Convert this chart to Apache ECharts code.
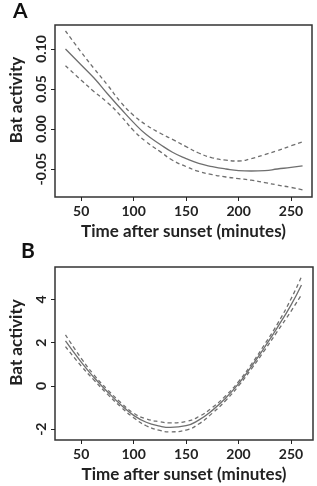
<!DOCTYPE html>
<html>
<head>
<meta charset="utf-8">
<script src="https://cdn.jsdelivr.net/npm/echarts@6/dist/echarts.min.js"></script>
<style>
  html, body { margin: 0; padding: 0; background: #fff; }
  #chart { width: 317px; height: 486px; }
</style>
</head>
<body>
<div id="chart"></div>
<script>
// minutes after sunset where the curves were read
const timeA = [35, 50, 62, 75, 88, 100, 112, 125, 137, 150, 162, 175, 188, 200, 212, 225, 237, 250, 261];
const fitA = [0.100, 0.080, 0.064, 0.044, 0.025, 0.008, -0.007, -0.019, -0.029, -0.037, -0.043, -0.047, -0.050, -0.052, -0.0525, -0.052, -0.050, -0.048, -0.046];
const upperA = [0.1225, 0.096, 0.076, 0.055, 0.033, 0.017, 0.005, -0.005, -0.013, -0.022, -0.030, -0.036, -0.039, -0.040, -0.037, -0.032, -0.027, -0.021, -0.016];
const lowerA = [0.079, 0.061, 0.047, 0.033, 0.016, -0.002, -0.016, -0.028, -0.039, -0.047, -0.053, -0.057, -0.060, -0.062, -0.064, -0.067, -0.070, -0.073, -0.076];

const timeB = [35, 50, 62, 75, 88, 100, 112, 125, 135, 150, 162, 175, 188, 200, 212, 225, 237, 250, 260];
const fitB = [2.08, 1.10, 0.40, -0.27, -0.88, -1.36, -1.68, -1.86, -1.92, -1.84, -1.58, -1.13, -0.55, 0.10, 0.88, 1.80, 2.70, 3.74, 4.67];
const upperB = [2.36, 1.28, 0.52, -0.17, -0.78, -1.26, -1.52, -1.66, -1.71, -1.64, -1.42, -1.00, -0.44, 0.20, 0.98, 1.93, 2.86, 4.02, 5.05];
const lowerB = [1.82, 0.92, 0.28, -0.38, -0.98, -1.47, -1.84, -2.06, -2.12, -2.04, -1.76, -1.26, -0.66, 0.00, 0.77, 1.66, 2.52, 3.45, 4.22];

const xTicks = [50, 100, 150, 200, 250];
const yTicksA = [-0.05, 0.00, 0.05, 0.10];
const yTicksB = [-2, 0, 2, 4];

const pairs = (xs, ys) => xs.map((x, i) => [x, ys[i]]);

const font = 'Lato, "Open Sans", sans-serif';
const ink = '#222';
const lineGrey = '#6f6f6f';

function xAxisFor(gridIndex, min, max) {
    return {
        type: 'value', gridIndex: gridIndex, min: min, max: max,
        name: 'Time after sunset (minutes)',
        nameLocation: 'middle', nameGap: 26,
        nameTextStyle: { fontFamily: font, fontSize: 17, fontWeight: 'bold', color: ink },
        splitLine: { show: false },
        axisLine: { show: false, onZero: false },
        axisTick: { show: true, customValues: xTicks, length: 4, lineStyle: { color: ink, width: 1 } },
        axisLabel: { customValues: xTicks, margin: 7, fontFamily: font, fontSize: 14, fontWeight: 'bold', color: ink }
    };
}

function yAxisFor(gridIndex, min, max, ticks, digits) {
    return {
        type: 'value', gridIndex: gridIndex, min: min, max: max,
        name: 'Bat activity',
        nameLocation: 'middle', nameGap: 30,
        // left padding nudges the rotated title upward, as in the original
        nameTextStyle: { fontFamily: font, fontSize: 17, fontWeight: 'bold', color: ink, padding: [0, 0, 0, 22] },
        splitLine: { show: false },
        axisLine: { show: false, onZero: false },
        axisTick: { show: true, customValues: ticks, length: 4, lineStyle: { color: ink, width: 1 } },
        axisLabel: {
            customValues: ticks, rotate: 90, margin: 7,
            fontFamily: font, fontSize: 14, fontWeight: 'bold', color: ink,
            formatter: v => v.toFixed(digits)
        }
    };
}

function curve(name, xi, yi, xs, ys, dashed) {
    return {
        name: name, type: 'line', xAxisIndex: xi, yAxisIndex: yi,
        data: pairs(xs, ys), smooth: true, symbol: 'none',
        lineStyle: { color: lineGrey, width: 1.3, type: dashed ? [4, 3] : 'solid' }
    };
}

const chart = echarts.init(document.getElementById('chart'), null, { renderer: 'canvas' });
chart.setOption({
    animation: false,
    backgroundColor: '#fff',
    grid: [
        { left: 45, top: 25, width: 267, height: 172, show: true, borderColor: '#333', borderWidth: 1.5, backgroundColor: 'transparent' },
        { left: 48, top: 267, width: 265, height: 173, show: true, borderColor: '#333', borderWidth: 1.5, backgroundColor: 'transparent' }
    ],
    xAxis: [xAxisFor(0, 25, 270), xAxisFor(1, 25, 271)],
    yAxis: [yAxisFor(0, -0.085, 0.13, yTicksA, 2), yAxisFor(1, -2.5, 5.5, yTicksB, 0)],
    graphic: [
        { type: 'text', left: 13, top: 1, style: { text: 'A', fontFamily: font, fontSize: 21, fontWeight: 'bold', fill: '#111' } },
        { type: 'text', left: 21, top: 241, style: { text: 'B', fontFamily: font, fontSize: 21, fontWeight: 'bold', fill: '#111' } }
    ],
    series: [
        curve('fit A', 0, 0, timeA, fitA, false),
        curve('upper A', 0, 0, timeA, upperA, true),
        curve('lower A', 0, 0, timeA, lowerA, true),
        curve('fit B', 1, 1, timeB, fitB, false),
        curve('upper B', 1, 1, timeB, upperB, true),
        curve('lower B', 1, 1, timeB, lowerB, true)
    ]
});
</script>
</body>
</html>
